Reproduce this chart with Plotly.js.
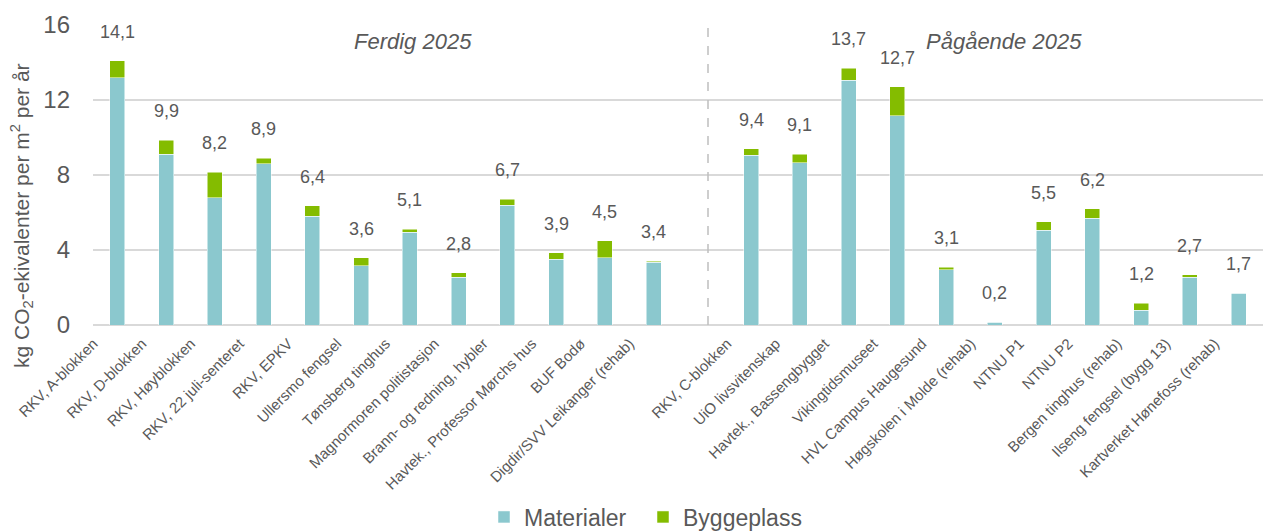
<!DOCTYPE html>
<html>
<head>
<meta charset="utf-8">
<script src="https://cdn.plot.ly/plotly-3.0.1.min.js"></script>
<style>html,body{margin:0;padding:0;background:#fff;}#chart{width:1263px;height:532px;}</style>
</head>
<body>
<div id="chart"></div>
<script>
const categories = [
  "RKV, A-blokken","RKV, D-blokken","RKV, Høyblokken","RKV, 22 juli-senteret","RKV, EPKV",
  "Ullersmo fengsel","Tønsberg tinghus","Magnormoren politistasjon","Brann- og redning, hybler",
  "Havtek., Professor Mørchs hus","BUF Bodø","Digdir/SVV Leikanger (rehab)",
  " ",
  "RKV, C-blokken","UiO livsvitenskap","Havtek., Bassengbygget","Vikingtidsmuseet",
  "HVL Campus Haugesund","Høgskolen i Molde (rehab)","NTNU P1","NTNU P2",
  "Bergen tinghus (rehab)","Ilseng fengsel (bygg 13)","Kartverket Hønefoss (rehab)"
];
const materialer = [13.2, 9.1, 6.8, 8.6, 5.8, 3.15, 4.95, 2.55, 6.4, 3.5, 3.6, 3.35,
  null,
  9.05, 8.65, 13.05, 11.15, 2.95, 0.15, 5.05, 5.7, 0.8, 2.55, 1.7];
const byggeplass = [0.9, 0.75, 1.35, 0.3, 0.55, 0.45, 0.15, 0.25, 0.3, 0.35, 0.9, 0.05,
  null,
  0.35, 0.45, 0.65, 1.55, 0.12, 0.03, 0.45, 0.5, 0.35, 0.12, 0.02];
const totalLabels = ["14,1","9,9","8,2","8,9","6,4","3,6","5,1","2,8","6,7","3,9","4,5","3,4",
  "",
  "9,4","9,1","13,7","12,7","3,1","0,2","5,5","6,2","1,2","2,7","1,7"];
const seriesNames = ["Materialer","Byggeplass"];
const sectionLabels = ["Ferdig 2025","Pågående 2025"];

const gray = "#595959";
const font = "Liberation Sans, Arial, sans-serif";

const traces = [
  {type:"bar", name:seriesNames[0], x:categories, y:materialer,
   marker:{color:"#8BC8CE", line:{color:"#ffffff", width:0.5}}},
  {type:"bar", name:seriesNames[1], x:categories, y:byggeplass,
   marker:{color:"#84BC00", line:{color:"#ffffff", width:0.5}}}
];

const annotations = [];
categories.forEach((c,i)=>{
  if (materialer[i] === null) return;
  annotations.push({x:c, y:materialer[i]+byggeplass[i], xref:"x", yref:"y",
    text:totalLabels[i], showarrow:false, xanchor:"center", yanchor:"middle", yshift:29,
    font:{family:font, size:18, color:gray}});
});
annotations.push({x:(413-93)/1170, y:(325-42)/300, xref:"paper", yref:"paper", text:"<i>"+sectionLabels[0]+"</i>",
  showarrow:false, xanchor:"center", yanchor:"middle", font:{family:font, size:22, color:gray}});
annotations.push({x:(1004-93)/1170, y:(325-41)/300, xref:"paper", yref:"paper", text:"<i>"+sectionLabels[1]+"</i>",
  showarrow:false, xanchor:"center", yanchor:"middle", font:{family:font, size:22, color:gray}});
annotations.push({x:-(93-21)/1170, y:(325-216)/300, xref:"paper", yref:"paper",
  text:"kg CO<sub>2</sub>-ekivalenter per m<sup>2</sup> per år", textangle:-90,
  showarrow:false, xanchor:"center", yanchor:"middle",
  font:{family:font, size:21, color:gray}});

const layout = {
  width:1263, height:532,
  margin:{l:93, r:0, t:25, b:207, autoexpand:false},
  paper_bgcolor:"#ffffff", plot_bgcolor:"#ffffff",
  barmode:"stack", bargap:0.69,
  showlegend:true,
  legend:{orientation:"h", x:(484-93)/1170, xanchor:"left", y:-(517-325)/300, yanchor:"middle",
    font:{family:font, size:23, color:gray}, traceorder:"normal", itemwidth:30,
    entrywidth:114, entrywidthmode:"pixels"},
  xaxis:{type:"category", categoryorder:"array", categoryarray:categories,
    tickangle:-45, tickfont:{family:font, size:15, color:gray},
    showgrid:false, zeroline:false, showline:false, ticks:"", automargin:false,
    ticklabelshift:-24, ticklabelstandoff:6},
  yaxis:{range:[0,16], tickvals:[0,4,8,12,16], ticktext:["0","4","8","12","16"],
    tickfont:{family:font, size:24, color:gray}, showgrid:true, gridcolor:"#D9D9D9", gridwidth:1.5,
    zeroline:true, zerolinecolor:"#D9D9D9", zerolinewidth:1.5, showline:false, ticks:"",
    ticklabelstandoff:22, automargin:false},
  shapes:[{type:"line", xref:"paper", yref:"paper", x0:(708-93)/1170, x1:(708-93)/1170, y0:0, y1:1,
    line:{color:"#BFBFBF", width:1.5, dash:"dash"}}],
  annotations:annotations
};

Plotly.newPlot("chart", traces, layout, {displayModeBar:false, staticPlot:true});
</script>
</body>
</html>
